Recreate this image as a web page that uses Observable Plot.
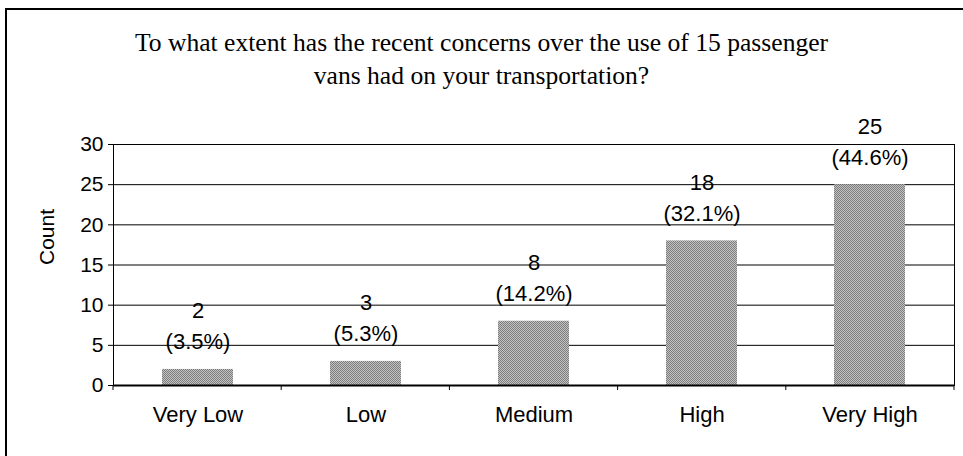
<!DOCTYPE html>
<html>
<head>
<meta charset="utf-8">
<script src="https://cdn.jsdelivr.net/npm/d3@7"></script>
<script src="https://cdn.jsdelivr.net/npm/@observablehq/plot@0.6"></script>
<style>
  html, body { margin: 0; padding: 0; background: #fff; }
  #wrap { position: relative; width: 963px; height: 456px; overflow: hidden; background: #fff; }
  #frame { position: absolute; left: 5px; top: 8px; width: 980px; height: 480px;
           border-left: 2px solid #000; border-top: 2px solid #000; box-sizing: border-box; }
  #title { position: absolute; left: 0; top: 26px; width: 963px; text-align: center;
           font-family: "Liberation Serif", "Times New Roman", serif; font-size: 25.6px;
           line-height: 33px; color: #000; }
  #chart { position: absolute; left: 0; top: 0; }
</style>
</head>
<body>
<div id="wrap">
  <div id="frame"></div>
  <div id="chart"></div>
  <div id="title">To what extent has the recent concerns over the use of 15 passenger<br>vans had on your transportation?</div>
</div>
<script>
const categories = ["Very Low", "Low", "Medium", "High", "Very High"];
const counts = [2, 3, 8, 18, 25];
const percents = ["3.5%", "5.3%", "14.2%", "32.1%", "44.6%"];
const yTicks = [0, 5, 10, 15, 20, 25, 30];
const yLabel = "Count";

const data = categories.map((c, i) => ({cat: c, count: counts[i], pct: percents[i]}));

const plot = Plot.plot({
  width: 963,
  height: 456,
  marginLeft: 113,
  marginRight: 9,
  marginTop: 144,
  marginBottom: 71,
  style: {fontFamily: "'Liberation Sans', Arial, sans-serif", fontSize: "22px", background: "transparent", color: "#000", overflow: "visible"},
  x: {domain: categories, paddingInner: 0.58, paddingOuter: 0.29, label: null},
  y: {domain: [0, 30], ticks: yTicks, label: null},
  marks: [
    Plot.gridY(yTicks, {stroke: "#000", strokeOpacity: 1, strokeWidth: 1}),
    Plot.barY(data, {x: "cat", y: "count", fill: "url(#dither)"}),
    Plot.frame({stroke: "#000", strokeWidth: 1}),
    Plot.ruleY([0], {stroke: "#000", strokeWidth: 2}),
    Plot.axisY({ticks: yTicks, tickSize: 5, tickPadding: 5, label: null, fontSize: 21}),
    Plot.axisX({tickSize: 0, tickPadding: 21, label: null, fontSize: 22}),
    Plot.text(data, {x: "cat", y: "count", text: d => "(" + d.pct + ")", dy: -27, fontSize: 22}),
    Plot.text(data, {x: "cat", y: "count", text: d => String(d.count), dy: -58, fontSize: 22}),
    Plot.text([yLabel], {frameAnchor: "left", rotate: -90, dx: -66, fontSize: 21, text: d => d})
  ]
});

document.getElementById("chart").appendChild(plot);

// dithered grey fill for the bars
const svg = d3.select(plot);
const pat = svg.insert("defs", ":first-child").append("pattern")
  .attr("id", "dither").attr("width", 2).attr("height", 2)
  .attr("patternUnits", "userSpaceOnUse");
pat.append("rect").attr("width", 2).attr("height", 2).attr("fill", "#c4c4c4");
pat.append("rect").attr("width", 1).attr("height", 1).attr("fill", "#7c7c7c");
pat.append("rect").attr("x", 1).attr("y", 1).attr("width", 1).attr("height", 1).attr("fill", "#7c7c7c");

// category boundary tick marks under the baseline, from the plot's x scale
const sx = plot.scale("x");
const sy = plot.scale("y");
const [r0, r1] = sx.range;
const y0 = sy.apply(0);
const bounds = d3.range(categories.length + 1).map(i => r0 + i * (r1 - r0) / categories.length);
svg.append("g")
  .selectAll("line").data(bounds).join("line")
  .attr("x1", d => d).attr("x2", d => d)
  .attr("y1", y0).attr("y2", y0 + 5)
  .attr("stroke", "#000").attr("stroke-width", 1);
</script>
</body>
</html>
